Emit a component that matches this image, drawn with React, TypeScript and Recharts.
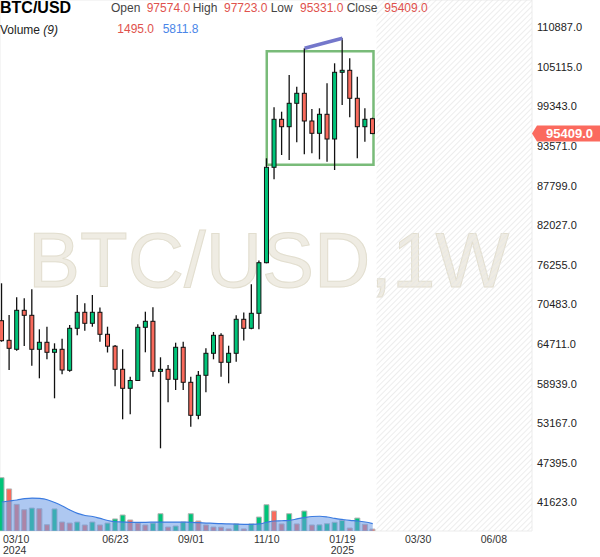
import {
  Area,
  Bar,
  CartesianGrid,
  Cell,
  ComposedChart,
  ReferenceArea,
  ReferenceLine,
  XAxis,
  YAxis,
} from "recharts"

// weekly BTC/USD candles, week 0 = 03/10/2024
const opens = [
  68126, 65268, 63956, 69642, 68913, 63956, 64977, 63519, 63956, 60894,
  67018, 69351, 67747, 69351, 66143, 64408, 61040, 58270, 59407, 67164,
  68038, 60748, 61040, 59582, 64248, 59145, 54333, 60165, 63373, 65997,
  62061, 63373, 68330, 67018, 69205, 76582, 90492, 97490, 96411, 99823,
  101281, 97242, 95449, 98219, 94618, 104343, 104634, 100552, 96411, 97574,
]
const highs = [
  73579, 68957, 71538, 71392, 72704, 66872, 67251, 64831, 65501, 67499,
  71873, 70663, 71873, 70050, 67251, 64583, 63956, 59961, 67616, 69438,
  70080, 62790, 61667, 64918, 65064, 59961, 60792, 64102, 66478, 66289,
  64481, 68913, 69321, 73448, 76903, 91804, 99240, 98598, 103949, 102243,
  107842, 98992, 99094, 102739, 105655, 109300, 106384, 103701, 99094, 97723,
]
const lows = [
  65064, 60938, 63752, 64437, 61565, 59728, 62498, 56812, 60311, 60690,
  65997, 66668, 67251, 65064, 63489, 58561, 53750, 54479, 59334, 63519,
  59961, 49522, 56229, 58022, 58022, 52671, 53750, 57687, 62498, 59961,
  58999, 62148, 65239, 66872, 66872, 76495, 88742, 92285, 91556, 94137,
  92387, 92533, 91658, 91308, 90098, 99575, 97782, 91804, 94224, 95331,
]
const closes = [
  65210, 64102, 69642, 68913, 63956, 64977, 63519, 63956, 60938, 67018,
  69351, 67747, 69351, 66143, 64408, 61040, 58270, 59407, 67164, 68038,
  60748, 61040, 59582, 64248, 59145, 54333, 60165, 63373, 65997, 62061,
  63373, 68330, 67018, 69205, 76582, 90492, 97490, 96411, 99823, 101281,
  97242, 95449, 98219, 94618, 104343, 104634, 100552, 96411, 97490, 95409,
]
const volumes = [
  41600, 32800, 20800, 16600, 17900, 17400, 4900, 17200, 7000, 6200,
  7000, 4700, 7000, 4700, 6200, 9400, 12500, 8600, 6200, 4700,
  6200, 13500, 3100, 3900, 7000, 13500, 7800, 4700, 3100, 3000,
  1600, 5500, 1600, 5500, 10900, 20500, 15600, 5500, 13500, 5500,
  15600, 4700, 4800, 5700, 6800, 8300, 2300, 10100, 5200, 1495,
]
// volume moving average (9)
const volumeMa = [
  22600, 23400, 24200, 25200, 25700, 25400, 24400, 22200, 19500, 16400,
  13700, 12100, 11300, 9800, 8200, 7200, 7000, 6800, 6800, 6800,
  6900, 7000, 7000, 7000, 6900, 6800, 6500, 6200, 6000, 5700,
  5500, 5300, 5200, 5200, 5500, 6800, 7800, 8000, 8300, 9400,
  10500, 11300, 11500, 10900, 9800, 9000, 8300, 7800, 7000, 5800,
]

const tickWeeks = [0, 15, 25, 35, 45, 55, 65]
const tickLabels = ["03/10", "06/23", "09/01", "11/10", "01/19", "03/30", "06/08"]
const tickYears = ["2024", "", "", "", "2025", "", ""]
const priceTicks = [
  41623, 47395, 53167, 58939, 64711, 70483, 76255, 82027, 87799, 93571,
  99343, 105115, 110887,
]

// drawings on the chart
const boxWeeks = [35, 49.1]
const boxPrices = [90871, 107404]
const trendWeeks = [40, 45]
const trendPrices = [107842, 109300]
const lastPrice = 95409

const FONT = "Arial, 'Liberation Sans', sans-serif"
const GREEN = "#00c479"
const RED = "#f96a5c"
const X_DOMAIN = [-0.24, 70.04]
const PRICE_DOMAIN = [37464, 114884]
const VOL_DOMAIN = [0, 414180]

const rows = opens.map((o, i) => ({
  i,
  o,
  h: highs[i],
  l: lows[i],
  c: closes[i],
  range: [lows[i], highs[i]],
  vol: volumes[i],
  ma: volumeMa[i],
  volUp: i === 0 || volumes[i] >= volumes[i - 1],
}))

const Candle = (props: any) => {
  const { x, y, width, height, payload } = props
  const { o, h, l, c } = payload
  const top = Math.min(y, y + height)
  const span = Math.abs(height)
  const py = (v: number) => top + ((h - v) / (h - l || 1)) * span
  const cx = x + width / 2
  const bTop = py(Math.max(o, c))
  const bBot = py(Math.min(o, c))
  return (
    <g>
      <line x1={cx} x2={cx} y1={top} y2={top + span} stroke="#111" strokeWidth={1.3} />
      <rect
        x={x + 0.5}
        y={bTop}
        width={width - 1}
        height={Math.max(bBot - bTop, 1.5)}
        fill={c >= o ? GREEN : RED}
        stroke="#111"
        strokeWidth={1}
      />
    </g>
  )
}

// date + year in one two-line label
const WeekTick = (props: any) => {
  const { x, y, payload } = props
  const k = tickWeeks.indexOf(payload.value)
  const first = k === 0
  const tx = first ? 3 : x
  return (
    <text
      x={tx}
      y={y + 12}
      textAnchor={first ? "start" : "middle"}
      fontFamily={FONT}
      fontSize={10.5}
      fill="#333"
    >
      <tspan x={tx}>{tickLabels[k]}</tspan>
      {tickYears[k] && (
        <tspan x={tx} dy={11}>
          {tickYears[k]}
        </tspan>
      )}
    </text>
  )
}

const PriceTag = (props: any) => {
  const { viewBox } = props
  const x = viewBox.x + viewBox.width
  const y = viewBox.y
  return (
    <g>
      <path d={`M${x} ${y} L${x + 5} ${y - 8} H600 V${y + 8} H${x + 5} Z`} fill="#fb6a5e" />
      <text x={x + 14} y={y + 4.5} fill="#fff" fontSize={13} fontWeight="bold" fontFamily={FONT}>
        {lastPrice.toFixed(1)}
      </text>
    </g>
  )
}

const layer = { position: "absolute" as const, left: 0, top: 0 }

export default function App() {
  return (
    <div
      style={{
        position: "relative",
        width: 600,
        height: 557,
        background: "#fff",
        fontFamily: FONT,
        overflow: "hidden",
      }}
    >
      <style>{"body{margin:0}"}</style>
      <svg width={600} height={557} style={layer}>
        <text
          x={28}
          y={287}
          fontSize={78}
          fontFamily={FONT}
          fill="#efece3"
          stroke="#e2decf"
          strokeWidth={1}
        >
          BTC/USD,1W
        </text>
      </svg>

      {/* bottom layer: grid, future hatch, volume bars */}
      <div style={layer}>
        <ComposedChart width={600} height={557} data={rows} margin={{ top: 0, right: 0, bottom: 0, left: 0 }}>
          <defs>
            <pattern id="hatch" width={4} height={4} patternUnits="userSpaceOnUse" patternTransform="rotate(45)">
              <line x1={0} y1={0} x2={0} y2={4} stroke="#e6e6e6" strokeWidth={1.4} />
            </pattern>
          </defs>
          <CartesianGrid stroke="#ececec" />
          <XAxis
            type="number"
            dataKey="i"
            domain={X_DOMAIN}
            ticks={tickWeeks}
            interval={0}
            allowDataOverflow
            height={26}
            tick={false}
            tickLine={false}
            axisLine={false}
          />
          <YAxis
            orientation="right"
            width={68}
            domain={PRICE_DOMAIN}
            ticks={priceTicks}
            interval={0}
            allowDataOverflow
            tick={false}
            tickLine={false}
            axisLine={false}
          />
          <YAxis yAxisId="vol" hide domain={VOL_DOMAIN} allowDataOverflow />
          <ReferenceArea x1={rows.length - 0.5} fill="url(#hatch)" fillOpacity={1} stroke="none" />
          <Bar dataKey="vol" yAxisId="vol" barSize={5} stroke="#b5b5b5" strokeWidth={1} isAnimationActive={false}>
            {rows.map((r) => (
              <Cell key={r.i} fill={r.volUp ? GREEN : RED} />
            ))}
          </Bar>
        </ComposedChart>
      </div>

      {/* top layer: volume average, candles, drawings, axes */}
      <div style={layer}>
        <ComposedChart width={600} height={557} data={rows} margin={{ top: 0, right: 0, bottom: 0, left: 0 }}>
          <XAxis
            type="number"
            dataKey="i"
            domain={X_DOMAIN}
            ticks={tickWeeks}
            interval={0}
            allowDataOverflow
            height={26}
            tickSize={0}
            tickMargin={0}
            axisLine={false}
            tick={<WeekTick />}
          />
          <YAxis
            orientation="right"
            width={68}
            domain={PRICE_DOMAIN}
            ticks={priceTicks}
            interval={0}
            allowDataOverflow
            tickSize={0}
            tickMargin={5}
            axisLine={false}
            tick={{ fontSize: 11, fill: "#222", fontFamily: FONT }}
            tickFormatter={(v: number) => v.toFixed(1)}
          />
          <YAxis yAxisId="vol" hide domain={VOL_DOMAIN} allowDataOverflow />
          <Area
            dataKey="ma"
            yAxisId="vol"
            type="monotone"
            stroke="#3b7be0"
            strokeWidth={1.2}
            fill="#6b9be6"
            fillOpacity={0.55}
            dot={false}
            activeDot={false}
            isAnimationActive={false}
          />
          <Bar dataKey="range" barSize={5} shape={<Candle />} isAnimationActive={false} />
          <ReferenceArea
            x1={boxWeeks[0]}
            x2={boxWeeks[1]}
            y1={boxPrices[0]}
            y2={boxPrices[1]}
            fill="none"
            stroke="#79bb79"
            strokeWidth={2.5}
          />
          <ReferenceLine
            segment={[
              { x: trendWeeks[0], y: trendPrices[0] },
              { x: trendWeeks[1], y: trendPrices[1] },
            ]}
            stroke="#7477cb"
            strokeWidth={3.5}
          />
          <ReferenceLine y={lastPrice} stroke="none" label={(p: any) => <PriceTag {...p} />} />
        </ComposedChart>
      </div>

      <svg width={600} height={40} style={{ ...layer, pointerEvents: "none" }} fontFamily={FONT}>
        <text x={0} y={12.7} fontSize={16} fontWeight="bold" fill="#000">
          BTC/USD
        </text>
        <g fontSize={12}>
          <text x={111} y={11.7} fill="#444">Open</text>
          <text x={146.7} y={11.7} fill="#e0524d">97574.0</text>
          <text x={192.7} y={11.7} fill="#444">High</text>
          <text x={224} y={11.7} fill="#e0524d">97723.0</text>
          <text x={270.7} y={11.7} fill="#444">Low</text>
          <text x={300} y={11.7} fill="#e0524d">95331.0</text>
          <text x={346.7} y={11.7} fill="#444">Close</text>
          <text x={384.3} y={11.7} fill="#e0524d">95409.0</text>
          <text x={0} y={33.5} fill="#222">
            Volume <tspan fontStyle="italic">(9)</tspan>
          </text>
          <text x={117.3} y={33.3} fill="#e0524d">1495.0</text>
          <text x={162.7} y={33.3} fill="#4a86e8">5811.8</text>
        </g>
      </svg>
    </div>
  )
}
